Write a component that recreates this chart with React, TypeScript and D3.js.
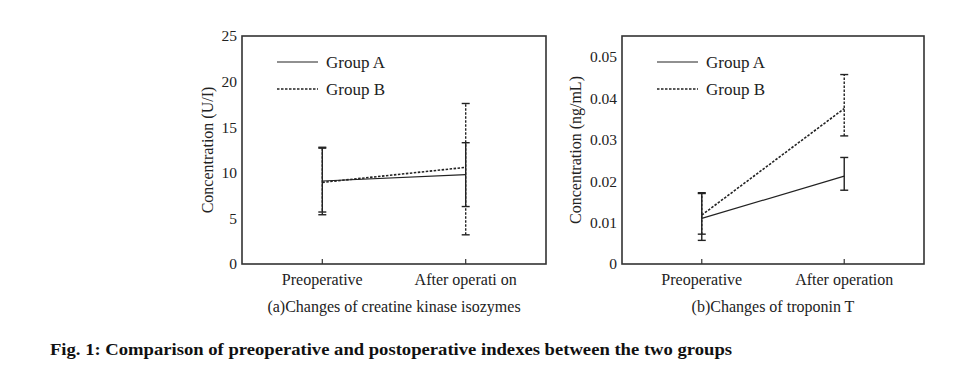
import React from 'react';
import * as d3 from 'd3';

const categories = ['Preoperative', 'After operation'];
const groups = ['Group A', 'Group B'];

// panel (a) creatine kinase isozymes, U/I
const ckMean = [[9.1, 9.8], [8.95, 10.6]];
const ckLow = [[5.7, 6.3], [5.4, 3.2]];
const ckHigh = [[12.7, 13.3], [12.8, 17.6]];
const ckTicks = [0, 5, 10, 15, 20, 25];

// panel (b) troponin T, ng/mL
const tnMean = [[0.011, 0.0212], [0.0118, 0.0375]];
const tnLow = [[0.0057, 0.0178], [0.0072, 0.0309]];
const tnHigh = [[0.0172, 0.0257], [0.017, 0.0457]];
const tnTicks = [0, 0.01, 0.02, 0.03, 0.04, 0.05];

const ink = '#222';
const font = '"Liberation Serif", "Times New Roman", serif';
const dashes = ['none', '2.5,1.5'];
const widths = [1.2, 1.6];

type PanelProps = {
  left: number; right: number; top: number; bottom: number;
  yMax: number; ticks: number[]; fmt: (v: number) => string;
  mean: number[][]; low: number[][]; high: number[][];
  yTitle: string; yTitleX: number; subtitle: string; catLabels: string[];
};

const Panel = (p: PanelProps) => {
  const x = d3.scalePoint<string>().domain(categories).range([p.left, p.right]).padding(0.56);
  const y = d3.scaleLinear().domain([0, p.yMax]).range([p.bottom, p.top]);
  const line = d3.line<[string, number]>().x(d => x(d[0]) as number).y(d => y(d[1]));
  const midY = (p.top + p.bottom) / 2;
  return (
    <g>
      <rect x={p.left} y={p.top} width={p.right - p.left} height={p.bottom - p.top}
        fill="none" stroke="#333" strokeWidth={1.6} />
      {categories.map(c => (
        <line key={c} x1={x(c)} x2={x(c)} y1={p.bottom} y2={p.bottom - 5} stroke="#333" strokeWidth={1.2} />
      ))}
      {p.ticks.map(t => (
        <text key={t} x={p.left - 5} y={y(t)} dy="0.35em" textAnchor="end"
          fontSize={15.5} fill={ink} fontFamily={font}>{p.fmt(t)}</text>
      ))}
      {categories.map((c, i) => (
        <text key={c} x={x(c)} y={p.bottom + 21} textAnchor="middle"
          fontSize={16} fill={ink} fontFamily={font}>{p.catLabels[i]}</text>
      ))}
      <text x={(p.left + p.right) / 2} y={p.bottom + 48} textAnchor="middle"
        fontSize={16} fill={ink} fontFamily={font}>{p.subtitle}</text>
      <text transform={`translate(${p.yTitleX},${midY}) rotate(-90)`} textAnchor="middle"
        fontSize={16} fill={ink} fontFamily={font}>{p.yTitle}</text>
      {groups.map((g, gi) => (
        <g key={g}>
          <path d={line(categories.map((c, ci) => [c, p.mean[gi][ci]]) as [string, number][]) || ''}
            fill="none" stroke={ink} strokeWidth={widths[gi]} strokeDasharray={dashes[gi]} />
          {categories.map((c, ci) => {
            const cx = x(c) as number;
            return (
              <g key={c} stroke={ink} strokeWidth={1.4} strokeDasharray={dashes[gi]}>
                <line x1={cx} x2={cx} y1={y(p.low[gi][ci])} y2={y(p.high[gi][ci])} />
                <line x1={cx - 4} x2={cx + 4} y1={y(p.low[gi][ci])} y2={y(p.low[gi][ci])} strokeDasharray="none" />
                <line x1={cx - 4} x2={cx + 4} y1={y(p.high[gi][ci])} y2={y(p.high[gi][ci])} strokeDasharray="none" />
              </g>
            );
          })}
          <line x1={p.left + 35} x2={p.left + 76} y1={p.top + 26 + gi * 27} y2={p.top + 26 + gi * 27}
            stroke={ink} strokeWidth={widths[gi]} strokeDasharray={dashes[gi]} />
          <text x={p.left + 84} y={p.top + 26 + gi * 27} dy="0.35em" fontSize={17}
            fill={ink} fontFamily={font}>{g}</text>
        </g>
      ))}
    </g>
  );
};

export default function App() {
  return (
    <svg width={977} height={365} style={{ position: 'absolute', left: 0, top: 0, background: '#fff' }}>
      <Panel left={242} right={546} top={36} bottom={264} yMax={25} ticks={ckTicks}
        fmt={d3.format('d')} mean={ckMean} low={ckLow} high={ckHigh}
        yTitle="Concentration (U/I)" yTitleX={213} subtitle="(a)Changes of creatine kinase isozymes"
        catLabels={['Preoperative', 'After operati on']} />
      <Panel left={622} right={924} top={36} bottom={264} yMax={0.055} ticks={tnTicks}
        fmt={v => (v === 0 ? '0' : d3.format('.2f')(v))} mean={tnMean} low={tnLow} high={tnHigh}
        yTitle="Concentration (ng/mL)" yTitleX={581} subtitle="(b)Changes of troponin T"
        catLabels={['Preoperative', 'After operation']} />
      <text x={50} y={355} fontSize={16} fontWeight="bold" fill="#111" fontFamily={font}
        textLength={682} lengthAdjust="spacingAndGlyphs">
        Fig. 1: Comparison of preoperative and postoperative indexes between the two groups
      </text>
    </svg>
  );
}
